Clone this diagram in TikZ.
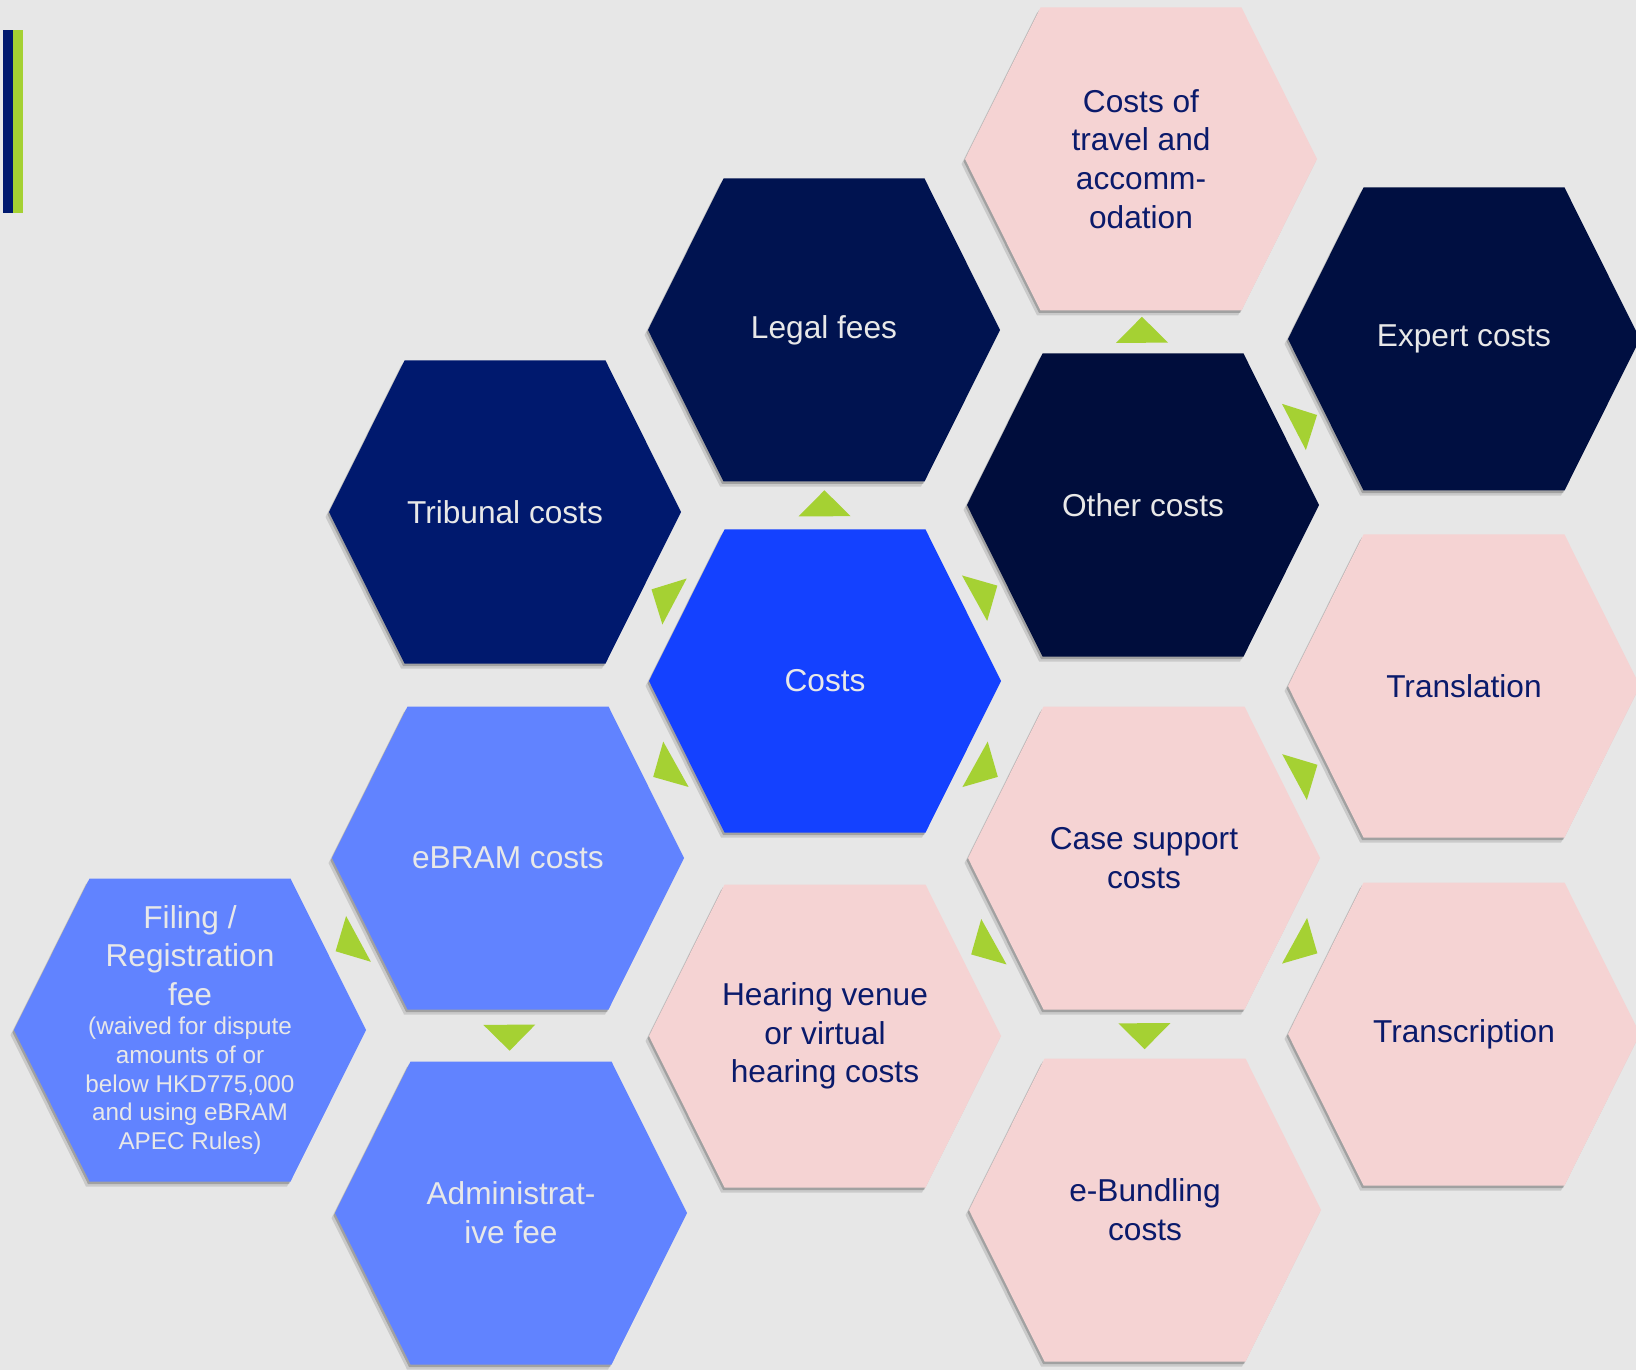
\documentclass[tikz,border=0pt]{standalone}
\usepackage{fontspec}
\setmainfont{Liberation Sans}
\usetikzlibrary{shapes.geometric,shadows}

\definecolor{bggrey}{HTML}{E7E7E7}
\definecolor{costblue}{HTML}{1441FF}
\definecolor{navyA}{HTML}{00196E}
\definecolor{navyB}{HTML}{001350}
\definecolor{navyC}{HTML}{000D3C}
\definecolor{navyD}{HTML}{000F41}
\definecolor{paleblue}{HTML}{6183FF}
\definecolor{rosepink}{HTML}{F5D3D3}
\definecolor{limegreen}{HTML}{A5D133}
\definecolor{inknavy}{HTML}{0A1A6B}
\definecolor{paletext}{HTML}{E8E8E8}

\newcommand\hexcell[5]{%
  \fill[#3, cellshadow] (#2) ++(-176,0) -- ++(75.5,-151.5) -- ++(201,0) -- ++(75.5,151.5) -- ++(-75.5,151.5) -- ++(-201,0) -- cycle;
  \node[celltext, #4] (#1) at (#2) {#5};
}

\begin{document}
\begin{tikzpicture}[x=0.01cm, y=-0.01cm,
    cellshadow/.style={drop shadow={shadow xshift=-0.15mm, shadow yshift=-0.25mm, opacity=0.2, fill=black},
                       drop shadow={shadow xshift=-0.35mm, shadow yshift=-0.5mm, opacity=0.12, fill=black}},
    celltext/.style={align=center, inner sep=0pt, font=\fontsize{9}{11}\selectfont},
    ondark/.style={text=paletext},
    onpink/.style={text=inknavy},
    filingtext/.style={text=paletext, text width=24mm, align=flush center},
    greentri/.style={isosceles triangle, isosceles triangle apex angle=90, fill=limegreen,
                     inner sep=0pt, minimum height=2.6mm, sloped, allow upside down}]
  \useasboundingbox (0,0) rectangle (1636,1370);
  \fill[bggrey] (0,0) rectangle (1636,1370);
  \fill[navyA] (3,30) rectangle (13,213);
  \fill[limegreen] (13,30) rectangle (23,213);

  \hexcell{tribunal}{505,512}{navyA}{ondark}{Tribunal costs}
  \hexcell{legal}{824,330}{navyB}{ondark}{Legal fees}
  \hexcell{costs}{825,681}{costblue}{ondark}{Costs}
  \hexcell{other}{1143,505}{navyC}{ondark}{Other costs}
  \hexcell{travel}{1141,159}{rosepink}{onpink}{Costs of\\travel and\\accomm-\\odation}
  \hexcell{expert}{1464,339}{navyD}{ondark}{Expert costs}
  \hexcell{translation}{1464,686}{rosepink}{onpink}{Translation}
  \hexcell{transcription}{1464,1034}{rosepink}{onpink}{Transcription}
  \hexcell{casesupport}{1144,858}{rosepink}{onpink}{Case support\\costs}
  \hexcell{ebundling}{1145,1210}{rosepink}{onpink}{e-Bundling\\costs}
  \hexcell{hearing}{825,1036}{rosepink}{onpink}{Hearing venue\\or virtual\\hearing costs}
  \hexcell{ebram}{508,858}{paleblue}{ondark}{eBRAM costs}
  \hexcell{admin}{511,1213}{paleblue}{ondark}{Administrat-\\ive fee}
  \hexcell{filing}{190,1030}{paleblue}{filingtext}{Filing /\\Registration\\fee\par
    \fontsize{6.9}{8.2}\selectfont(waived for dispute\\amounts of or\\below HKD775,000\\and using eBRAM\\APEC Rules)\par}

  \path (costs.center) -- node[greentri] {} (legal.center);
  \path (costs.center) -- node[greentri] {} (tribunal.center);
  \path (costs.center) -- node[greentri] {} (other.center);
  \path (costs.center) -- node[greentri] {} (ebram.center);
  \path (costs.center) -- node[greentri] {} (casesupport.center);
  \path (other.center) -- node[greentri] {} (travel.center);
  \path (other.center) -- node[greentri] {} (expert.center);
  \path (casesupport.center) -- node[greentri] {} (translation.center);
  \path (casesupport.center) -- node[greentri] {} (transcription.center);
  \path (casesupport.center) -- node[greentri] {} (ebundling.center);
  \path (casesupport.center) -- node[greentri] {} (hearing.center);
  \path (ebram.center) -- node[greentri] {} (filing.center);
  \path (ebram.center) -- node[greentri] {} (admin.center);
\end{tikzpicture}
\end{document}
